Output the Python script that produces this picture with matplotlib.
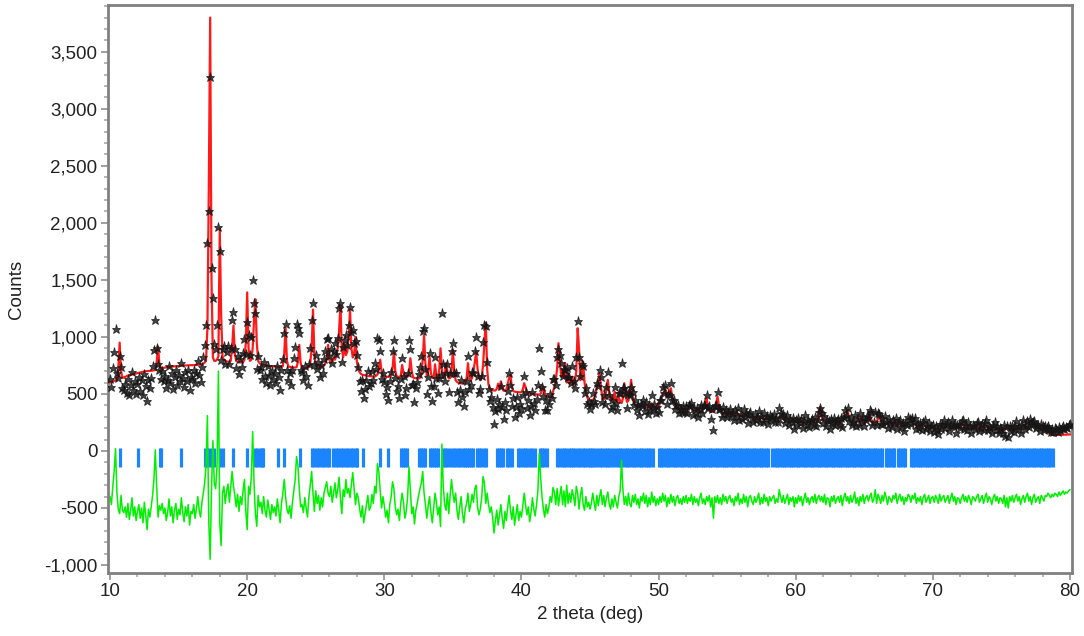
import matplotlib.pyplot as plt
import numpy as np
from matplotlib.ticker import MultipleLocator, FuncFormatter

plt.rcParams['font.family'] = ['Liberation Sans', 'DejaVu Sans']

# 2theta sampling, 0.1 deg step
two_theta = np.linspace(10, 80, 701)

# calculated profile, one row per degree (x.0 ... x.9)
y_calc = [
    600, 605, 610, 615, 620, 625, 720, 950, 700, 640,
    645, 650, 655, 660, 665, 668, 671, 674, 677, 680,
    683, 686, 689, 692, 695, 697, 699, 700, 701, 702,
    703, 705, 707, 710, 780, 915, 760, 725, 727, 729,
    731, 733, 735, 737, 739, 740, 741, 742, 743, 744,
    745, 746, 747, 748, 749, 750, 750, 751, 751, 752,
    752, 753, 753, 754, 755, 756, 758, 760, 765, 775,
    800, 1080, 2300, 3800, 1500, 820, 790, 790, 800, 830,
    1950, 1200, 830, 800, 790, 785, 782, 780, 790, 900,
    1100, 850, 790, 780, 778, 776, 775, 780, 800, 950,
    1390, 900, 790, 800, 900, 1150, 1330, 950, 790, 770,
    760, 755, 752, 750, 748, 746, 745, 744, 743, 742,
    741, 740, 739, 738, 737, 736, 745, 850, 1080, 790,
    740, 737, 735, 733, 732, 731, 735, 780, 930, 770,
    730, 728, 727, 726, 728, 735, 770, 900, 1240, 850,
    760, 745, 740, 735, 735, 740, 750, 770, 820, 930,
    800, 770, 790, 820, 800, 830, 900, 1050, 1280, 900,
    820, 945, 840, 870, 1000, 1240, 900, 820, 850, 1000,
    780, 720, 690, 675, 668, 665, 662, 660, 658, 656,
    655, 654, 653, 652, 660, 670, 720, 800, 700, 655,
    652, 651, 650, 650, 652, 660, 720, 870, 700, 655,
    650, 648, 660, 754, 680, 650, 648, 650, 680, 813,
    700, 645, 640, 638, 636, 635, 640, 680, 800, 1017,
    760, 660, 700, 827, 680, 640, 640, 760, 660, 640,
    700, 900, 720, 640, 650, 770, 700, 635, 640, 700,
    886, 700, 620, 605, 598, 595, 592, 590, 592, 600,
    640, 770, 640, 620, 640, 700, 780, 870, 720, 640,
    620, 640, 750, 950, 1126, 720, 580, 545, 535, 532,
    530, 530, 545, 590, 540, 610, 545, 528, 526, 540,
    590, 640, 667, 560, 525, 520, 518, 516, 515, 514,
    515, 540, 594, 560, 510, 505, 503, 502, 500, 498,
    497, 496, 495, 494, 500, 530, 565, 510, 485, 478,
    472, 470, 480, 520, 560, 620, 720, 945, 800, 650,
    700, 640, 770, 600, 680, 590, 620, 652, 580, 600,
    700, 1076, 900, 620, 650, 784, 600, 520, 470, 450,
    445, 443, 445, 460, 500, 560, 620, 682, 560, 470,
    450, 470, 540, 623, 520, 450, 440, 450, 520, 440,
    430, 477, 430, 420, 460, 594, 480, 430, 440, 520,
    623, 480, 420, 400, 395, 390, 388, 386, 400, 385,
    383, 390, 382, 380, 400, 418, 385, 378, 380, 376,
    380, 420, 470, 500, 520, 535, 470, 480, 520, 550,
    470, 420, 418, 380, 362, 360, 362, 380, 360, 358,
    356, 360, 380, 404, 370, 352, 350, 355, 370, 350,
    346, 345, 360, 390, 430, 462, 390, 350, 343, 345,
    342, 360, 420, 477, 400, 345, 335, 332, 330, 328,
    326, 325, 330, 323, 322, 320, 330, 318, 316, 314,
    312, 311, 315, 316, 306, 303, 300, 298, 297, 296,
    295, 294, 292, 291, 290, 289, 288, 287, 286, 285,
    283, 282, 281, 280, 285, 280, 278, 277, 285, 300,
    316, 285, 272, 270, 268, 265, 262, 260, 258, 256,
    255, 254, 253, 253, 252, 252, 251, 251, 250, 250,
    250, 250, 249, 249, 250, 252, 255, 300, 389, 300,
    265, 258, 255, 252, 250, 250, 248, 248, 250, 255,
    250, 247, 246, 250, 260, 280, 300, 320, 345, 290,
    260, 250, 248, 246, 250, 260, 280, 301, 270, 250,
    245, 250, 270, 300, 330, 280, 250, 245, 248, 260,
    280, 301, 270, 250, 242, 238, 236, 240, 250, 236,
    232, 230, 235, 228, 225, 230, 222, 220, 215, 218,
    225, 235, 245, 250, 258, 250, 240, 230, 225, 220,
    215, 213, 220, 230, 218, 210, 208, 206, 205, 203,
    200, 190, 180, 172, 175, 185, 200, 215, 228, 220,
    228, 215, 205, 200, 210, 225, 210, 200, 205, 220,
    235, 243, 225, 205, 198, 200, 215, 205, 198, 196,
    195, 200, 215, 205, 195, 193, 200, 215, 228, 215,
    200, 192, 190, 195, 210, 200, 190, 188, 186, 185,
    184, 184, 186, 190, 200, 195, 186, 183, 182, 185,
    195, 210, 200, 190, 200, 215, 228, 210, 195, 200,
    220, 250, 272, 230, 215, 225, 210, 200, 205, 200,
    199, 190, 180, 170, 160, 152, 147, 143, 140, 140,
    140, 140, 141, 141, 142, 142, 143, 143, 144, 144,
    145,
]

# observed minus calculated, same grid
residual = [
    30, -40, 120, 250, 450, 60, -80, -120, 40, -90,
    -110, -60, -150, -30, -170, -90, 20, -140, -60, -180,
    -100, -40, -160, -70, -200, -20, -130, -260, -80, -150,
    -60, 40, 180, 440, 120, -150, -50, -90, -30, -120,
    -70, -180, -110, 10, -140, -60, -200, -90, -30, -170,
    -80, -130, 20, -110, -190, -60, -140, -40, -220, -100,
    -120, -40, -160, -70, 30, -90, -150, -20, 60, 150,
    300, 740, -200, -520, 100, 520, 150, 100, 300, 1130,
    -200, -400, 60, 120, -30, 80, 140, -20, 110, 250,
    120, 40, -60, 50, -100, 30, -40, 80, 180, -100,
    -260, 120, 50, 200, 600, 150, -120, -230, 40, -60,
    -20, -120, 30, -90, -150, 0, -80, -170, -40, -110,
    -60, -140, 10, -90, -200, -30, 60, 180, 30, -80,
    -120, -50, -160, -20, 80, 180, 380, 300, 100, -60,
    -40, -110, 20, -70, -150, 30, 130, 250, 60, -100,
    80, -30, 40, -90, 20, -60, 60, 110, 160, 60,
    30, 120, -20, 60, 150, 20, 90, 200, 20, -120,
    90, 30, 180, 60, 100, 20, 140, 240, 100, -40,
    60, 20, -80, -150, -50, -200, -120, -40, 40, -90,
    -60, 50, -30, 120, 60, 320, 250, 80, -70, 30,
    -50, -150, -90, -200, -40, 30, 160, 100, -60, -130,
    -80, -180, -30, 60, -20, -160, -100, 30, 290, 80,
    -120, -60, -210, -90, -30, 40, 100, 150, 250, 60,
    -40, -160, -50, 30, -110, -200, -70, 60, -20, -130,
    -60, -233, 490, 120, -40, -90, 60, -120, 40, 180,
    60, -20, 60, -90, -170, -60, 30, -120, -200, -80,
    -30, 60, -100, -40, 50, -20, 100, 130, -60, -130,
    -80, 20, 205, 150, -30, 60, -40, -110, -60, -150,
    -290, -180, -90, -220, -130, -40, -160, -250, -100, -180,
    -60, 40, -90, -170, -60, -220, -130, -40, -180, -100,
    -150, -50, 60, -40, -130, -60, -190, -110, 20, -80,
    -140, -40, 80, 410, 200, 30, -80, -150, -40, -120,
    -60, 30, -20, 110, 70, -40, 100, -50, 40, 120,
    -40, 80, -60, 130, -30, 60, -20, 90, 30, -50,
    120, 60, -80, 40, 110, -40, -90, 30, -60, -20,
    -80, -30, 60, -20, -90, 40, -50, 30, 90, -40,
    40, -60, 20, 70, -30, -80, 10, -60, 40, -20,
    -70, 30, 80, 350, 90, -40, 30, -50, 60, -30,
    -60, 40, -20, 50, -40, 10, -70, 30, -10, 60,
    -30, 40, -60, 20, -40, 70, -20, 30, -50, 10,
    -40, 30, -20, 60, -10, 40, -60, 20, -30, 50,
    -20, 30, -50, 20, 40, -30, 10, -40, 30, -20,
    40, -30, 20, -10, 50, -40, 30, -20, 10, -50,
    20, 60, -30, 10, -40, 30, -10, 40, -60, 20,
    -160, 30, -20, 40, -30, 20, -40, 50, -10, 30,
    -30, 20, 40, -20, 10, -50, 30, -10, 60, -40,
    10, -30, 50, -20, 30, -60, 20, 40, -10, -40,
    30, -20, 10, 60, -40, 20, -30, 50, -10, 20,
    -50, 30, -10, 20, 40, -30, 10, -20, 90, 30,
    -20, 40, -30, 10, 50, -40, 20, -10, 30, -60,
    20, -30, 40, -10, 30, -50, 10, 60, -20, 20,
    -40, 10, 30, -20, 50, -30, 20, 40, -10, 30,
    -20, 50, -40, 20, 10, -60, 30, -10, 40, -30,
    10, 30, -20, 40, -50, 20, 60, -10, 30, -30,
    40, -20, 10, 70, -30, 20, -50, 30, -10, 50,
    -30, 20, 40, -10, 30, 60, -20, 10, 90, -30,
    50, 20, -30, 40, -10, 70, 20, -40, 30, 10,
    -20, 40, 10, 60, -30, 20, 50, -10, 30, -40,
    20, -10, 50, 30, -20, 40, 10, 60, -30, 20,
    -10, 30, -40, 20, 50, -20, 10, 40, -30, 20,
    30, -20, 40, 10, -30, 50, -10, 20, 40, -20,
    10, 40, -30, 20, 60, -10, 30, -40, 20, 10,
    -30, 20, 50, -10, 30, -20, 40, 10, -40, 30,
    20, -10, 30, 50, -20, 10, 40, -30, 20, 60,
    -20, 30, 10, -40, 20, 50, -10, 30, -30, 20,
    10, -30, 40, -60, 20, -70, 30, -10, 40, -20,
    20, 50, -10, 30, -40, 10, 40, -20, 30, 60,
    -10, 30, -40, 20, 50, -20, 10, 30, -30, 40,
    20, -10, 40, 30, 60, 40, 20, 50, 30, 60,
    50, 30, 70, 40, 60, 80, 50, 70, 60, 80,
    90,
]
diff_offset = -430

# Bragg reflection positions (deg)
reflections = [
    10.7, 12.04, 13.62, 13.75, 15.2, 16.95, 17.1, 17.25, 17.4, 17.55,
    18.05, 18.2, 18.97, 19.98, 20.6, 20.75, 20.9, 21.05, 21.18, 22.27, 22.7,
    23.86, 24.72, 24.9, 25.08, 25.26, 25.44, 25.62, 25.8, 25.98,
    26.28, 26.46, 26.64, 26.82, 27.0, 27.18, 27.36, 27.54, 27.72, 27.9, 28.0,
    28.45, 29.69, 30.28, 31.2, 31.35, 31.5, 31.65,
    32.5, 32.65, 32.8, 32.95, 33.35, 33.5, 33.65, 33.8, 33.92,
    34.3, 34.45, 34.6, 34.78, 35.02, 35.18, 35.34, 35.5,
    35.75, 35.9, 36.05, 36.2, 36.35, 36.47, 36.76, 36.92, 37.08, 37.24, 37.4,
    38.22, 38.38, 38.52, 38.66, 38.95, 39.12, 39.3,
    39.76, 39.92, 40.08, 40.24, 40.4, 40.63, 40.8, 40.98,
    41.36, 41.52, 41.68, 41.86,
    42.6, 42.77, 42.94, 43.1, 43.27, 43.44, 43.6, 43.77, 43.94, 44.1, 44.27,
    44.48, 44.65, 44.82, 44.98, 45.15, 45.32, 45.5, 45.7, 45.9, 46.07, 46.24,
    46.4, 46.6, 46.85, 47.02, 47.19, 47.36, 47.53, 47.7, 47.87, 48.04, 48.2,
    48.38, 48.55, 48.72, 48.9, 49.07, 49.24, 49.41, 49.58,
    50.0, 50.17, 50.34, 50.51, 50.68, 50.85, 51.02, 51.19, 51.36, 51.53,
    51.7, 51.87, 52.04, 52.21, 52.38, 52.55, 52.72, 52.89, 53.06, 53.23,
    53.4, 53.57, 53.74, 53.91, 54.08, 54.25, 54.42, 54.59, 54.76, 54.93,
    55.1, 55.27, 55.44, 55.61, 55.78, 55.95, 56.12, 56.29, 56.46, 56.63,
    56.8, 56.97, 57.14, 57.31, 57.48, 57.65, 57.82, 57.95,
    58.3, 58.47, 58.64, 58.81, 58.98, 59.15, 59.32, 59.49, 59.66, 59.83,
    60.0, 60.17, 60.34, 60.51, 60.68, 60.85, 61.02, 61.19, 61.36, 61.53,
    61.7, 61.87, 62.04, 62.21, 62.38, 62.55, 62.72, 62.89, 63.06, 63.23,
    63.4, 63.57, 63.74, 63.91, 64.08, 64.25, 64.42, 64.59, 64.76, 64.93,
    65.1, 65.27, 65.44, 65.61, 65.78, 65.95, 66.12, 66.3,
    66.55, 66.72, 66.89, 67.06, 67.2, 67.45, 67.62, 67.79, 67.98,
    68.38, 68.55, 68.72, 68.89, 69.06, 69.23, 69.4, 69.57, 69.74, 69.91,
    70.08, 70.25, 70.42, 70.59, 70.76, 70.93, 71.1, 71.27, 71.44, 71.61,
    71.78, 71.95, 72.12, 72.29, 72.46, 72.63, 72.8, 72.97, 73.14, 73.31,
    73.48, 73.65, 73.82, 73.99, 74.16, 74.33, 74.5, 74.67, 74.84, 75.01,
    75.18, 75.35, 75.52, 75.69, 75.86, 76.03, 76.2, 76.37, 76.54, 76.71,
    76.88, 77.05, 77.22, 77.39, 77.56, 77.73, 77.9, 78.07, 78.24, 78.41,
    78.58, 78.75,
]

y_calc = np.array(y_calc, dtype=float)
residual = np.array(residual, dtype=float)
y_obs = y_calc + residual
y_diff = residual + diff_offset

fig = plt.figure(figsize=(10.84, 6.36), dpi=100)
ax = fig.add_axes([108 / 1084, 63 / 636, 964 / 1084, 568 / 636])

ax.vlines(reflections, -140, 30, color='#1a85ff', lw=2.3, zorder=2)
ax.plot(two_theta, y_diff, color='#00f000', lw=1.1, zorder=2)
ax.plot(two_theta, y_calc, color='#ff1a1a', lw=1.6, zorder=3)
ax.plot(two_theta, y_obs, ls='none', marker='*', ms=6.5, color='#151515',
        mew=0.6, alpha=0.8, zorder=4)

ax.set_xlim(9.85, 80.15)
ax.set_ylim(-1070, 3910)

ax.xaxis.set_major_locator(MultipleLocator(10))
ax.xaxis.set_minor_locator(MultipleLocator(2))
ax.yaxis.set_major_locator(MultipleLocator(500))
ax.yaxis.set_minor_locator(MultipleLocator(100))
ax.yaxis.set_major_formatter(FuncFormatter(lambda v, p: f'{int(v):,}'))

for s in ax.spines.values():
    s.set_color('#808080')
    s.set_linewidth(2)

ax.tick_params(which='major', direction='out', length=5, width=1.3,
               color='#999999', labelsize=13.5, labelcolor='#222222', pad=2.5)
ax.tick_params(which='minor', direction='out', length=3, width=1.3,
               color='#b0b0b0')

ax.set_xlabel('2 theta (deg)', fontsize=13.5, color='#222222')
ax.set_ylabel('Counts', fontsize=13.5, color='#222222')
ax.xaxis.set_label_coords(0.5, -0.058)
ax.yaxis.set_label_coords(-0.086, 0.5)

fig.savefig('out.png', dpi=100)
